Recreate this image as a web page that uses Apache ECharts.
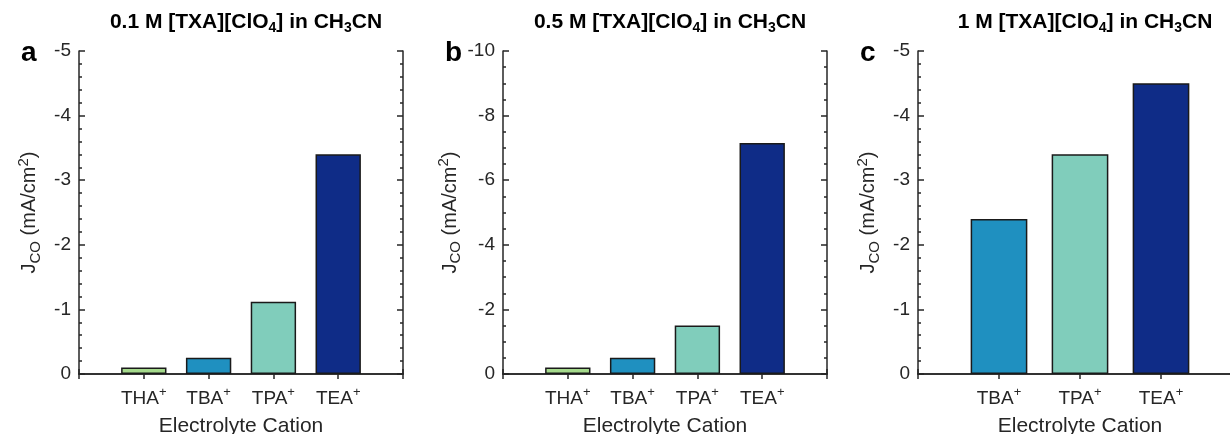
<!DOCTYPE html>
<html>
<head>
<meta charset="utf-8">
<script src="https://cdn.jsdelivr.net/npm/echarts@6/dist/echarts.min.js"></script>
<style>
  html, body { margin: 0; padding: 0; background: #fff; }
  #chart { width: 1230px; height: 434px; }
</style>
</head>
<body>
<div id="chart"></div>
<script>
// Data (values are negative current densities, mA/cm2)
const catsA = ["THA", "TBA", "TPA", "TEA"];
const valsA = [-0.1, -0.25, -1.12, -3.4];
const catsB = ["THA", "TBA", "TPA", "TEA"];
const valsB = [-0.2, -0.5, -1.5, -7.15];
const catsC = ["TBA", "TPA", "TEA"];
const valsC = [-2.4, -3.4, -4.5];
const colorMap = { THA: "#a5da8c", TBA: "#1f90c0", TPA: "#80cdbb", TEA: "#0f2c87" };
const titles = ["0.1", "0.5", "1"];
const letters = ["a", "b", "c"];

const FONT = "Liberation Sans";
const AX = "#262626";

const panels = [
  { cats: catsA, vals: valsA, left: 79, min: -5, interval: 1, minorSplit: 5 },
  { cats: catsB, vals: valsB, left: 503, min: -10, interval: 2, minorSplit: 4 },
  { cats: catsC, vals: valsC, left: 918, min: -5, interval: 1, minorSplit: 5 },
];
const TOP = 51, H = 323, W = 324;

let grid = [], xAxis = [], yAxis = [], series = [], title = [];

panels.forEach(function (p, i) {
  grid.push({ left: p.left, top: TOP, width: W, height: H, containLabel: false, outerBoundsMode: "none" });
  // pad with empty slots so the bars sit at 1..n in a 0..n+1 box
  const axisData = [""].concat(p.cats, [""]);
  const barData = [null].concat(p.vals.map(function (v, k) {
    return { value: v, itemStyle: { color: colorMap[p.cats[k]] } };
  }), [null]);

  xAxis.push({
    gridIndex: i,
    type: "category",
    data: axisData,
    boundaryGap: false,
    position: "bottom",
    axisLine: { lineStyle: { color: AX, width: 1.5 } },
    axisTick: { inside: true, length: 5, lineStyle: { color: AX, width: 1.5 }, interval: 0 },
    axisLabel: {
      interval: 0,
      margin: 12,
      fontFamily: FONT,
      fontSize: 19,
      color: AX,
      formatter: function (v) { return v ? "{n|" + v + "}{sup|+}" : ""; },
      rich: {
        n: { fontFamily: FONT, fontSize: 19, color: AX },
        sup: { fontFamily: FONT, fontSize: 13, color: AX, padding: [0, 0, 12, 0] },
      },
    },
    splitLine: { show: false },
    name: "Electrolyte Cation",
    nameLocation: "middle",
    nameGap: 42,
    nameTextStyle: { fontFamily: FONT, fontSize: 21, color: AX },
  });
  xAxis.push({
    gridIndex: i,
    type: "category",
    data: axisData,
    boundaryGap: false,
    position: "top",
    axisLine: { lineStyle: { color: AX, width: 1.5 } },
    axisTick: { inside: true, length: 5, lineStyle: { color: AX, width: 1.5 }, interval: 0 },
    axisLabel: { show: false },
    splitLine: { show: false },
  });

  const yBase = {
    gridIndex: i,
    type: "value",
    inverse: true,
    min: p.min,
    max: 0,
    interval: p.interval,
    splitNumber: -p.min / p.interval,
    axisLine: { show: true, lineStyle: { color: AX, width: 1.5 } },
    axisTick: { show: true, inside: true, length: 6, lineStyle: { color: AX, width: 1.5 } },
    minorTick: { show: true, splitNumber: p.minorSplit, length: 3, lineStyle: { color: AX, width: 1.5 } },
    splitLine: { show: false },
  };
  yAxis.push(Object.assign({}, yBase, {
    position: "left",
    axisLabel: { fontFamily: FONT, fontSize: 19, color: AX, margin: 8 },
    name: "{n|J}{sub|CO}{n| (mA/cm}{sup|2}{n|)}",
    nameLocation: "middle",
    nameRotate: 90,
    nameGap: 36,
    nameTextStyle: {
      fontFamily: FONT, fontSize: 20, color: AX,
      rich: {
        n: { fontFamily: FONT, fontSize: 20, color: AX },
        sub: { fontFamily: FONT, fontSize: 15, color: AX, padding: [12, 0, 0, 0] },
        sup: { fontFamily: FONT, fontSize: 15, color: AX, padding: [0, 0, 12, 0] },
      },
    },
  }));
  yAxis.push(Object.assign({}, yBase, {
    position: "right",
    axisLabel: { show: false },
  }));

  series.push({
    type: "bar",
    xAxisIndex: i * 2,
    yAxisIndex: i * 2,
    data: barData,
    barWidth: "70%",
    itemStyle: { borderColor: "#1a1a1a", borderWidth: 1.5 },
    z: 1,
  });

  title.push({
    text: "{b|" + titles[i] + " M [TXA][ClO}{s|4}{b|] in CH}{s|3}{b|CN}",
    left: p.left + W / 2,
    top: 5,
    textAlign: "center",
    textStyle: {
      rich: {
        b: { fontFamily: FONT, fontSize: 21, fontWeight: "bold", color: "#000" },
        s: { fontFamily: FONT, fontSize: 14, fontWeight: "bold", color: "#000", padding: [11, 0, 0, 0] },
      },
    },
  });
  title.push({
    text: letters[i],
    left: p.left - 63,
    top: 34,
    textStyle: { fontFamily: FONT, fontSize: 28, fontWeight: "bold", color: "#000" },
  });
});

const chart = echarts.init(document.getElementById("chart"));
chart.setOption({
  animation: false,
  backgroundColor: "#fff",
  title: title,
  grid: grid,
  xAxis: xAxis,
  yAxis: yAxis,
  series: series,
});
</script>
</body>
</html>
